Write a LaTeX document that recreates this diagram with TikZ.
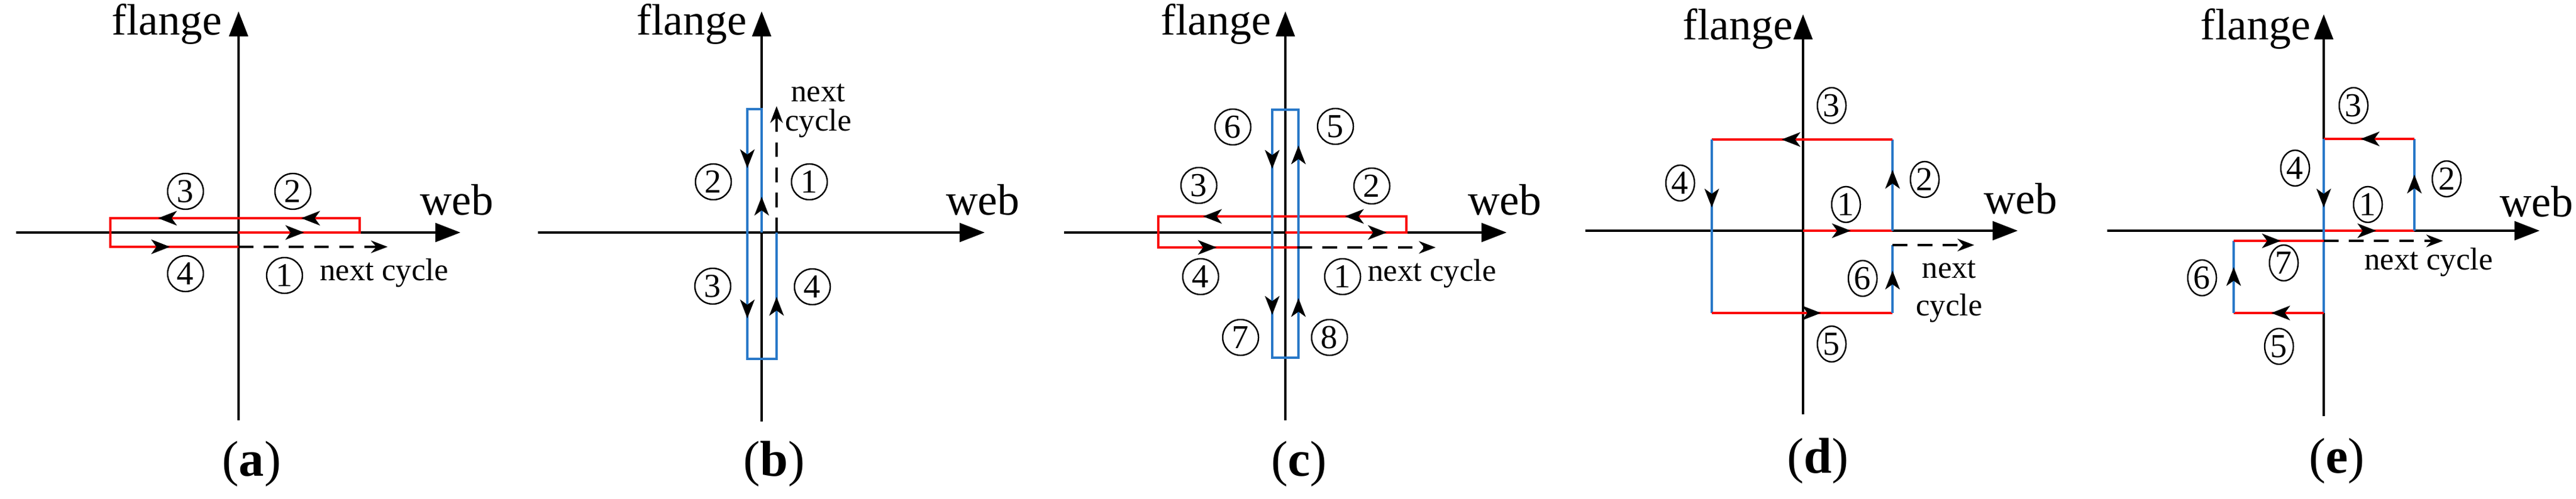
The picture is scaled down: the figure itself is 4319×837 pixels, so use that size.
\documentclass[tikz,border=0pt]{standalone}
\usepackage{fontspec}
\setmainfont{Liberation Serif}
\newfontfamily\tms{Liberation Serif}
\usetikzlibrary{arrows.meta,shapes.geometric}
\definecolor{rd}{RGB}{250,10,10}
\definecolor{bl}{RGB}{40,120,200}
\begin{document}
\begin{tikzpicture}[x=0.01cm,y=-0.01cm,
  ax/.style={line width=1.1pt,-{Triangle[length=12pt,width=9pt]}},
  ln/.style={line width=1.1pt},
  rp/.style={draw=rd,line width=1pt},
  bp/.style={draw=bl,line width=1pt},
  nx/.style={line width=1pt,dash pattern=on 7pt off 5pt,-{Stealth[length=8pt,width=6pt]}},
  mk/.style={-{Stealth[length=9pt,width=7pt,inset=2.5pt]}},
  circ/.style={circle,draw,line width=0.7pt,inner sep=0pt,minimum size=0.6cm,font=\tms\fontsize{16}{16}\selectfont},
  circe/.style={ellipse,draw,line width=0.7pt,inner sep=0pt,minimum width=0.48cm,minimum height=0.6cm,font=\tms\fontsize{16}{16}\selectfont},
  big/.style={font=\tms\fontsize{21}{21}\selectfont},
  sm/.style={font=\tms\fontsize{15}{16}\selectfont,align=center},
  plab/.style={font=\tms\fontsize{24}{24}\selectfont}]
\useasboundingbox (0,0) rectangle (4319,837);
% ---------- (a)
\coordinate (aO) at (400,390);
\draw[ln] (400,705) coordinate (aB) -- (aO);
\draw[ax] (aB) -- (400,19) coordinate (aT);
\draw[ax] (27,390) coordinate (aL) -- (772,390) coordinate (aR);
\draw[rp] (aO) -- (603,390) -- (603,366) -- (185,366) -- (185,414) -- (400,414) coordinate (aE);
\draw[nx] (aE) -- (650,414) coordinate (aN);
\draw[mk] (495,390)--(510,390);
\draw[mk] (525,366)--(505,366);
\draw[mk] (285,366)--(265,366);
\draw[mk] (265,414)--(285,414);
\node[circ] (a3) at (311,321) {3};
\node[circ] (a2) at (491,321) {2};
\node[circ] (a4) at (311,459) {4};
\node[circ] (a1) at (477,462) {1};
\node[sm] (anx) at (644,458) {next cycle};
\node[big] (aw) at (766,335) {web};
\node[big] (af) at (280,40) {flange};
\node[plab] (al) at (422,778) {(\textbf{a})};
% ---------- (b)
\coordinate (bO) at (1277,390);
\draw[ln] (1277,707) coordinate (bB) -- (bO);
\draw[ax] (bB) -- (1277,19) coordinate (bT);
\draw[ax] (902,390) coordinate (bL) -- (1651,390) coordinate (bR);
\draw[bp] (bO) -- (1277,183) -- (1253,183) -- (1253,602) -- (1302,602) -- (1302,390) coordinate (bE);
\draw[nx] (bE) -- (1302,178) coordinate (bN);
\draw[mk] (1277,350)--(1277,330);
\draw[mk] (1253,260)--(1253,282);
\draw[mk] (1253,512)--(1253,534);
\draw[mk] (1302,518)--(1302,498);
\node[circ] (b2) at (1196,305) {2};
\node[circ] (b1) at (1357,305) {1};
\node[circ] (b3) at (1195,480) {3};
\node[circ] (b4) at (1362,481) {4};
\node[sm] (bnx) at (1372,186) {next\\[-2pt]cycle};
\node[big] (bw) at (1648,335) {web};
\node[big] (bf) at (1160,40) {flange};
\node[plab] (bl) at (1298,778) {(\textbf{b})};
% ---------- (c)
\coordinate (cO) at (2155,390);
\draw[ln] (2155,705) coordinate (cB) -- (cO);
\draw[ax] (cB) -- (2155,19) coordinate (cT);
\draw[ax] (1784,390) coordinate (cL) -- (2526,390) coordinate (cR);
\draw[rp] (cO) -- (2358,390) -- (2358,363) -- (1942,363) -- (1942,415) -- (2175,415) coordinate (cE);
\draw[bp] (2133,184) rectangle (2177,600);
\draw[nx] (cE) -- (2407,415) coordinate (cN);
\draw[mk] (2305,390)--(2325,390);
\draw[mk] (2275,363)--(2255,363);
\draw[mk] (2037,363)--(2017,363);
\draw[mk] (2020,415)--(2040,415);
\draw[mk] (2133,263)--(2133,283);
\draw[mk] (2133,508)--(2133,528);
\draw[mk] (2177,264)--(2177,244);
\draw[mk] (2177,520)--(2177,500);
\node[circ] (c6) at (2067,213) {6};
\node[circ] (c5) at (2239,212) {5};
\node[circ] (c3) at (2010,311) {3};
\node[circ] (c2) at (2300,312) {2};
\node[circ] (c4) at (2013,464) {4};
\node[circ] (c1) at (2251,464) {1};
\node[circ] (c7) at (2080,566) {7};
\node[circ] (c8) at (2229,566) {8};
\node[sm] (cnx) at (2401,459) {next cycle};
\node[big] (cw) at (2523,335) {web};
\node[big] (cf) at (2039,40) {flange};
\node[plab] (cl) at (2178,778) {(\textbf{c})};
% ---------- (d)
\coordinate (dO) at (3023,387);
\draw[ln] (3023,695) coordinate (dB) -- (dO);
\draw[ax] (dB) -- (3023,24) coordinate (dT);
\draw[ax] (2658,387) coordinate (dL) -- (3383,387) coordinate (dR);
\draw[rp] (dO) -- (3173,387);
\draw[bp] (3173,387) -- (3173,234);
\draw[rp] (3173,234) -- (2870,234);
\draw[bp] (2870,234) -- (2870,525);
\draw[rp] (2870,525) -- (3173,525);
\draw[bp] (3173,525) -- (3173,411) coordinate (dE);
\draw[nx] (dE) -- (3310,411) coordinate (dN);
\draw[mk] (3085,387)--(3103,387);
\draw[mk] (3173,303)--(3173,285);
\draw[mk] (3005,234)--(2987,234);
\draw[mk] (2870,330)--(2870,348);
\draw[mk] (3035,525)--(3053,525);
\draw[mk] (3173,472)--(3173,454);
\node[circe] (d3) at (3071,177) {3};
\node[circe] (d4) at (2817,307) {4};
\node[circe] (d2) at (3227,301) {2};
\node[circe] (d1) at (3095,343) {1};
\node[circe] (d6) at (3123,467) {6};
\node[circe] (d5) at (3071,577) {5};
\node[sm] (dnx) at (3268,489) {next\\[2pt]cycle};
\node[big] (dw) at (3388,333) {web};
\node[big] (df) at (2914,48) {flange};
\node[plab] (dl) at (3048,773) {(\textbf{d})};
% ---------- (e)
\coordinate (eO) at (3896,387);
\draw[ln] (3896,698) coordinate (eB) -- (eO);
\draw[ax] (eB) -- (3896,24) coordinate (eT);
\draw[ax] (3533,387) coordinate (eL) -- (4258,387) coordinate (eR);
\draw[rp] (eO) -- (4048,387);
\draw[bp] (4048,387) -- (4048,233);
\draw[rp] (4048,233) -- (3896,233);
\draw[bp] (3896,233) -- (3896,525);
\draw[rp] (3896,525) -- (3745,525);
\draw[bp] (3745,525) -- (3745,404);
\draw[rp] (3745,404) -- (3896,404) coordinate (eE);
\draw[nx] (eE) -- (4096,404) coordinate (eN);
\draw[mk] (3966,387)--(3984,387);
\draw[mk] (4048,311)--(4048,293);
\draw[mk] (3976,233)--(3958,233);
\draw[mk] (3896,330)--(3896,348);
\draw[mk] (3826,525)--(3808,525);
\draw[mk] (3745,466)--(3745,448);
\draw[mk] (3806,404)--(3824,404);
\node[circe] (e3) at (3946,177) {3};
\node[circe] (e4) at (3848,282) {4};
\node[circe] (e2) at (4102,300) {2};
\node[circe] (e1) at (3970,343) {1};
\node[circe] (e7) at (3829,441) {7};
\node[circe] (e6) at (3692,466) {6};
\node[circe] (e5) at (3821,581) {5};
\node[sm] (enx) at (4072,440) {next cycle};
\node[big] (ew) at (4253,338) {web};
\node[big] (ef) at (3782,48) {flange};
\node[plab] (el) at (3918,773) {(\textbf{e})};
\end{tikzpicture}
\end{document}
